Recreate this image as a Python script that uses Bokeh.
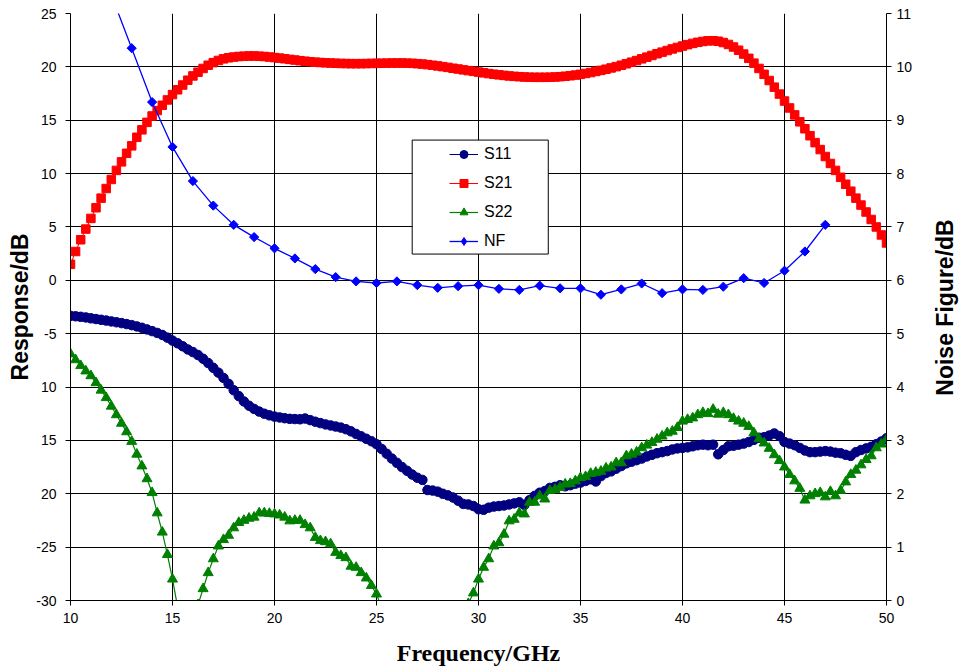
import math
from bokeh.plotting import figure
from bokeh.models import (Range1d, LinearAxis, FixedTicker, Legend, LegendItem,
                          BoxAnnotation, Label)
from bokeh.embed import file_html
from bokeh.resources import INLINE

# ---------------- data ----------------
freq = [10 + 0.25 * i for i in range(161)]   # GHz sweep grid

s11 = [
    -3.33, -3.37, -3.42, -3.48, -3.56, -3.63, -3.70, -3.77, -3.85, -3.93,   # 10.00-12.25
    -4.01, -4.10, -4.20, -4.32, -4.45, -4.60, -4.76, -4.93, -5.12, -5.37,   # 12.50-14.75
    -5.65, -5.90, -6.18, -6.48, -6.72, -7.00, -7.35, -7.75, -8.20, -8.65,   # 15.00-17.25
    -9.15, -9.70, -10.30, -10.85, -11.35, -11.75, -12.05, -12.30, -12.50, -12.65,  # 17.50-19.75
    -12.77, -12.85, -12.92, -12.98, -13.00, -13.02, -12.95, -13.10, -13.25, -13.38,  # 20.00-22.25
    -13.50, -13.60, -13.70, -13.80, -13.95, -14.15, -14.40, -14.62, -14.85, -15.08,  # 22.50-24.75
    -15.36, -15.80, -16.25, -16.70, -17.10, -17.50, -17.85, -18.20, -18.50, -18.70,  # 25.00-27.25
    -19.65, -19.70, -19.80, -20.00, -20.15, -20.35, -20.65, -20.95, -21.00, -21.15,  # 27.50-29.75
    -21.45, -21.50, -21.30, -21.20, -21.15, -21.10, -21.00, -20.90, -20.80, -21.05,  # 30.00-32.25
    -20.60, -20.20, -19.90, -19.75, -19.45, -19.35, -19.20, -19.30, -19.20, -19.05,  # 32.50-34.75
    -18.95, -18.80, -18.65, -18.85, -18.35, -18.05, -17.90, -17.65, -17.40, -17.15,  # 35.00-37.25
    -17.00, -16.85, -16.70, -16.50, -16.35, -16.20, -16.10, -16.00, -15.85, -15.75,  # 37.50-39.75
    -15.70, -15.65, -15.55, -15.45, -15.40, -15.45, -15.40, -16.30, -15.90, -15.55,  # 40.00-42.25
    -15.50, -15.40, -15.30, -15.15, -14.95, -14.75, -14.70, -14.55, -14.35, -14.60,  # 42.50-44.75
    -15.15, -15.30, -15.45, -15.70, -15.95, -16.10, -16.10, -16.05, -16.00, -16.05,  # 45.00-47.25
    -16.15, -16.20, -16.35, -16.45, -16.10, -15.90, -15.75, -15.60, -15.35, -15.10,  # 47.50-49.75
    -14.80,                                                                          # 50.00
]

s21 = [
    1.50, 2.70, 3.80, 4.80, 5.80, 6.80, 7.70, 8.60, 9.45, 10.30,            # 10.00-12.25
    11.10, 11.90, 12.60, 13.40, 14.10, 14.80, 15.40, 15.90, 16.40, 16.90,   # 12.50-14.75
    17.40, 17.85, 18.30, 18.75, 19.15, 19.50, 19.85, 20.15, 20.40, 20.60,   # 15.00-17.25
    20.75, 20.85, 20.92, 20.97, 21.00, 21.02, 21.02, 21.00, 20.97, 20.92,   # 17.50-19.75
    20.87, 20.82, 20.76, 20.70, 20.64, 20.58, 20.53, 20.48, 20.44, 20.41,   # 20.00-22.25
    20.38, 20.36, 20.34, 20.32, 20.31, 20.30, 20.30, 20.30, 20.31, 20.32,   # 22.50-24.75
    20.33, 20.34, 20.35, 20.36, 20.36, 20.36, 20.35, 20.33, 20.30, 20.26,   # 25.00-27.25
    20.21, 20.15, 20.09, 20.02, 19.95, 19.87, 19.80, 19.72, 19.65, 19.58,   # 27.50-29.75
    19.51, 19.44, 19.37, 19.31, 19.25, 19.20, 19.15, 19.11, 19.08, 19.05,   # 30.00-32.25
    19.03, 19.02, 19.02, 19.02, 19.03, 19.05, 19.08, 19.12, 19.17, 19.23,   # 32.50-34.75
    19.30, 19.38, 19.47, 19.57, 19.67, 19.78, 19.90, 20.02, 20.15, 20.29,   # 35.00-37.25
    20.44, 20.59, 20.75, 20.91, 21.07, 21.23, 21.38, 21.53, 21.68, 21.82,   # 37.50-39.75
    21.95, 22.08, 22.20, 22.30, 22.38, 22.44, 22.45, 22.40, 22.28, 22.10,   # 40.00-42.25
    21.86, 21.56, 21.20, 20.80, 20.35, 19.85, 19.30, 18.72, 18.10, 17.45,   # 42.50-44.75
    16.80, 16.15, 15.50, 14.85, 14.20, 13.55, 12.90, 12.25, 11.60, 10.95,   # 45.00-47.25
    10.30, 9.65, 9.00, 8.35, 7.70, 7.05, 6.40, 5.70, 5.00, 4.25,            # 47.50-49.75
    3.50,                                                                   # 50.00
]

s22 = [
    -6.90, -7.45, -8.00, -8.50, -8.95, -9.60, -10.30, -11.00, -11.80, -12.60,   # 10.00-12.25
    -13.40, -14.20, -15.10, -16.30, -17.40, -18.60, -19.90, -21.80, -23.60, -25.70,  # 12.50-14.75
    -28.00, -30.60, -33.50, -38.00, -34.00, -30.40, -28.90, -27.40, -26.10, -24.90,  # 15.00-17.25
    -24.30, -23.90, -23.20, -22.70, -22.50, -22.30, -22.20, -21.80, -21.80, -21.85,  # 17.50-19.75
    -21.90, -22.00, -22.20, -22.55, -22.50, -22.50, -22.90, -23.20, -24.10, -24.40,  # 20.00-22.25
    -24.50, -24.70, -25.50, -25.80, -26.00, -26.80, -26.90, -27.40, -27.90, -28.60,  # 22.50-24.75
    -29.40, -30.65, -33.00, -36.00, -39.00, -42.00, -45.00, -48.00, -50.00, -48.00,  # 25.00-27.25
    -45.00, -42.00, -40.00, -38.00, -36.00, -34.00, -32.50, -31.40, -30.30, -29.30,  # 27.50-29.75
    -28.00, -26.90, -26.10, -24.90, -24.60, -23.80, -22.55, -22.40, -21.80, -21.90,  # 30.00-32.25
    -20.80, -20.80, -20.20, -20.50, -19.70, -19.60, -19.40, -19.10, -19.05, -18.80,  # 32.50-34.75
    -18.50, -18.40, -18.10, -18.00, -17.90, -17.60, -17.50, -17.10, -17.10, -16.45,  # 35.00-37.25
    -16.30, -16.10, -15.70, -15.45, -15.20, -14.90, -14.60, -14.30, -14.15, -13.80,  # 37.50-39.75
    -13.20, -13.05, -12.90, -12.60, -12.40, -12.50, -12.10, -12.55, -12.40, -12.60,  # 40.00-42.25
    -12.95, -13.20, -13.40, -13.70, -14.30, -14.85, -15.25, -15.75, -16.35, -16.90,  # 42.50-44.75
    -17.50, -18.20, -18.80, -19.50, -20.60, -20.20, -20.00, -19.90, -20.30, -19.80,  # 45.00-47.25
    -20.20, -19.70, -18.90, -18.20, -17.80, -17.30, -16.80, -16.45, -15.70, -15.35,  # 47.50-49.75
    -14.90,                                                                          # 50.00
]

nf_freq = [12, 13, 14, 15, 16, 17, 18, 19, 20, 21, 22, 23, 24, 25, 26, 27, 28, 29,
           30, 31, 32, 33, 34, 35, 36, 37, 38, 39, 40, 41, 42, 43, 44, 45, 46, 47]
nf = [11.35, 10.35, 9.34, 8.50, 7.86, 7.40, 7.04, 6.81, 6.60, 6.41, 6.21, 6.06,
      5.98, 5.95, 5.98, 5.91, 5.86, 5.89, 5.91, 5.84, 5.82, 5.90, 5.85, 5.85,
      5.73, 5.83, 5.94, 5.76, 5.83, 5.82, 5.88, 6.04, 5.95, 6.18, 6.54, 7.04]

x_ticks = [10, 15, 20, 25, 30, 35, 40, 45, 50]
y_ticks = [-30, -25, -20, -15, -10, -5, 0, 5, 10, 15, 20, 25]
y_tick_labels = ["-30", "-25", "20", "15", "10", "-5", "0", "5", "10", "15", "20", "25"]
nf_ticks = [0, 1, 2, 3, 4, 5, 6, 7, 8, 9, 10, 11]

# legend frame (data units of the left axis)
LEG_LEFT, LEG_RIGHT, LEG_TOP, LEG_BOTTOM = 26.75, 33.42, 13.14, 2.46

# ---------------- figure ----------------
p = figure(width=961, height=671, x_range=Range1d(10, 50), y_range=Range1d(-30, 25),
           output_backend="svg", toolbar_location=None,
           min_border_left=70, min_border_right=75, min_border_top=13, min_border_bottom=71)
p.outline_line_color = None
p.background_fill_color = "white"
p.border_fill_color = "white"
p.extra_y_ranges = {"nf": Range1d(0, 11)}

TICK_FONT = "Liberation Sans"

# grids
p.xgrid.ticker = FixedTicker(ticks=x_ticks)
p.ygrid.ticker = FixedTicker(ticks=y_ticks)
for g in (p.xgrid[0], p.ygrid[0]):
    g.grid_line_color = "black"
    g.grid_line_alpha = 1.0
    g.grid_line_width = 1

# x axis
xa = p.xaxis[0]
xa.ticker = FixedTicker(ticks=x_ticks)
xa.axis_label = "Frequency/GHz"
xa.axis_label_text_font = "Liberation Serif"
xa.axis_label_text_font_style = "bold"
xa.axis_label_text_font_size = "24px"
xa.axis_label_standoff = 14
xa.major_label_standoff = 7

# left axis
ya = p.yaxis[0]
ya.ticker = FixedTicker(ticks=y_ticks)
ya.major_label_overrides = {t: lab for t, lab in zip(y_ticks, y_tick_labels)}
ya.axis_label = "Response/dB"
ya.axis_label_text_font = "Liberation Sans"
ya.axis_label_text_font_style = "bold"
ya.axis_label_text_font_size = "23px"
ya.axis_label_standoff = 0
ya.major_label_standoff = 9

# right axis (its title is drawn as a rotated label, reading bottom-to-top)
ra = LinearAxis(y_range_name="nf", ticker=FixedTicker(ticks=nf_ticks))
ra.major_label_standoff = 5
p.add_layout(ra, "right")

for ax in (xa, ya, ra):
    ax.axis_line_color = "black"
    ax.axis_line_width = 1
    ax.major_tick_line_color = "black"
    ax.major_tick_out = 5
    ax.major_tick_in = 0
    ax.minor_tick_line_color = None
    ax.major_label_text_font = TICK_FONT
    ax.major_label_text_font_size = "14px"
    ax.major_label_text_color = "black"
    ax.axis_label_text_color = "black"

right_title = Label(x=29, y=293, x_units="screen", y_units="screen",
                    text="Noise Figure/dB", angle=math.pi / 2,
                    text_align="center", text_baseline="middle",
                    text_font="Liberation Sans", text_font_style="bold",
                    text_font_size="23px", text_color="black")
p.add_layout(right_title, "right")

# ---------------- series ----------------
NAVY, RED, GREEN, BLUE = "#000080", "#FF0000", "#008000", "#0000FF"

l_s11 = p.line(freq, s11, line_color=NAVY, line_width=1)
m_s11 = p.scatter(freq, s11, marker="circle", size=9.5, fill_color=NAVY, line_color=NAVY)

l_s21 = p.line(freq, s21, line_color=RED, line_width=1)
m_s21 = p.scatter(freq, s21, marker="square", size=8.5, fill_color=RED, line_color=RED)

l_s22 = p.line(freq, s22, line_color=GREEN, line_width=1.2)
m_s22 = p.scatter(freq, s22, marker="triangle", size=10, fill_color=GREEN, line_color=GREEN)

l_nf = p.line(nf_freq, nf, line_color=BLUE, line_width=1.3, y_range_name="nf")
m_nf = p.scatter(nf_freq, nf, marker="square", angle=0.785398, size=6.5,
                 fill_color=BLUE, line_color=BLUE, y_range_name="nf")
# legend swatch for NF (diamond shape; carries no data of its own)
m_nf_key = p.scatter([float("nan")], [float("nan")], marker="diamond", size=11,
                     fill_color=BLUE, line_color=BLUE, y_range_name="nf")

# ---------------- legend ----------------
box = BoxAnnotation(left=LEG_LEFT, right=LEG_RIGHT, top=LEG_TOP, bottom=LEG_BOTTOM,
                    fill_color="white", fill_alpha=1.0, line_color="black",
                    line_width=1, line_alpha=1.0)
p.add_layout(box)

legend = Legend(items=[
    LegendItem(label="S11", renderers=[l_s11, m_s11]),
    LegendItem(label="S21", renderers=[l_s21, m_s21]),
    LegendItem(label="S22", renderers=[l_s22, m_s22]),
    LegendItem(label="NF", renderers=[l_nf, m_nf_key]),
], location=(379, 349))
legend.border_line_color = None
legend.background_fill_alpha = 0
legend.padding = 0
legend.margin = 0
legend.spacing = 9
legend.glyph_height = 20
legend.glyph_width = 29
legend.label_height = 20
legend.label_standoff = 6
legend.label_text_font = "Liberation Sans"
legend.label_text_font_size = "16px"
legend.label_text_color = "black"
p.add_layout(legend)

open("out.html", "w").write(file_html(p, INLINE))
